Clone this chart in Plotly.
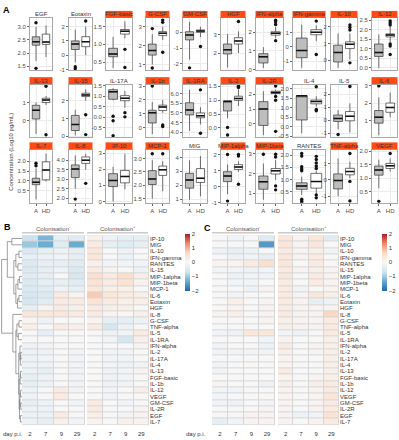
import plotly.graph_objects as go

W, H = 399, 440
FONT = "Liberation Sans, Arial, sans-serif"


def fx(p):
    return p / W


def fy(p):
    return 1 - p / H


# ---------------- Panel A data ----------------
cytokines = ["EGF", "Eotaxin", "FGF-basic", "G-CSF", "GM-CSF", "HGF", "IFN-alpha", "IFN-gamma", "IL-10", "IL-12",
             "IL-13", "IL-15", "IL-17A", "IL-1b", "IL-1RA", "IL-2", "IL-2R", "IL-4", "IL-5", "IL-6",
             "IL-7", "IL-8", "IP-10", "MCP-1", "MIG", "MIP-1alpha", "MIP-1beta", "RANTES", "TNF-alpha", "VEGF"]
significant = [0, 0, 1, 1, 1, 1, 1, 1, 1, 1,
               1, 1, 0, 1, 1, 1, 1, 0, 0, 1,
               1, 1, 1, 1, 0, 1, 1, 0, 1, 1]
groups = ["A", "HD"]

# [lower whisker, q1, median, q3, upper whisker]
stats_A = [
    [1.70, 2.30, 2.43, 2.62, 3.00], [-0.50, 0.40, 0.78, 1.00, 1.80], [0.33, 0.65, 0.73, 0.89, 1.21],
    [1.00, 1.50, 1.74, 2.08, 2.60], [-1.73, -0.48, -0.17, 0.04, 0.67], [1.20, 1.95, 2.18, 2.50, 3.05],
    [0.08, 0.35, 0.68, 0.85, 1.20], [-1.45, -0.75, -0.25, 0.62, 1.55], [-0.45, -0.10, 0.47, 0.90, 1.60],
    [0.00, 0.60, 0.80, 1.25, 1.75],
    [-0.73, 0.09, 0.58, 0.85, 1.00], [0.05, 0.33, 0.67, 1.18, 1.50], [0.80, 0.85, 1.20, 1.30, 1.37],
    [-0.45, 0.35, 1.08, 1.26, 1.85], [4.07, 4.90, 5.16, 5.53, 6.20], [0.35, 0.61, 0.96, 0.96, 0.96],
    [-0.75, -0.10, 1.00, 1.50, 2.20], [-0.35, 0.35, 1.62, 1.62, 1.62], [-0.70, -0.10, 0.14, 0.40, 0.78],
    [0.18, 0.87, 1.21, 1.59, 2.34],
    [0.05, 0.80, 0.92, 1.13, 1.63], [2.50, 3.08, 3.53, 3.75, 4.25], [0.00, 0.92, 1.30, 1.72, 2.15],
    [1.50, 2.03, 2.24, 2.55, 2.94], [0.95, 1.79, 2.38, 2.86, 3.80], [-0.47, 0.31, 0.66, 0.93, 1.38],
    [0.67, 1.20, 1.58, 1.87, 2.50], [0.36, 0.59, 0.73, 0.86, 1.11], [-1.00, -0.56, -0.05, 0.36, 1.30],
    [0.62, 1.11, 1.30, 1.45, 1.69],
]
outliers_A = [
    [3.15, 1.42], [-0.80, -0.95], [], [2.90, 0.82], [-2.25], [], [], [], [], [],
    [], [], [0.05, -0.16, -0.87], [3.00], [], [0.02, -0.25], [], [], [-1.10], [3.00],
    [1.90, 1.77], [1.95], [], [3.18], [], [2.00, -0.90], [2.97],
    [2.07, 1.96, 1.52, 1.43, 1.36, 0.18, 0.11, 0.07], [], [0.13],
]
stats_HD = [
    [1.85, 2.33, 2.42, 2.72, 3.05], [0.00, 0.60, 0.95, 1.30, 2.00], [1.17, 1.29, 1.37, 1.42, 1.65],
    [2.30, 2.53, 2.65, 2.74, 3.00], [-0.30, 0.00, 0.08, 0.15, 0.35], [2.00, 2.50, 2.67, 2.85, 3.20],
    [1.70, 1.85, 1.95, 2.03, 2.30], [0.40, 0.85, 1.02, 1.20, 1.50], [0.05, 0.70, 0.95, 1.10, 1.60],
    [1.35, 1.62, 1.72, 1.78, 2.20],
    [0.87, 1.00, 1.14, 1.24, 1.36], [2.00, 2.24, 2.33, 2.43, 2.65], [0.45, 0.78, 0.90, 1.02, 1.24],
    [1.08, 1.24, 1.50, 1.63, 2.00], [4.40, 4.75, 4.85, 5.00, 5.30], [0.79, 0.99, 1.06, 1.14, 1.38],
    [1.90, 2.05, 2.12, 2.20, 2.30], [1.05, 1.20, 1.32, 1.40, 1.60], [-0.95, -0.05, 0.30, 0.67, 1.30],
    [1.21, 1.49, 1.77, 2.02, 2.62],
    [0.97, 1.05, 1.55, 1.97, 2.39], [3.50, 3.83, 4.00, 4.17, 4.33], [0.75, 1.15, 1.55, 1.92, 2.95],
    [1.78, 2.37, 2.58, 2.72, 2.90], [1.20, 2.20, 2.50, 3.20, 4.10], [0.93, 1.07, 1.22, 1.37, 1.57],
    [1.67, 1.97, 2.13, 2.25, 2.67], [0.30, 0.64, 0.91, 1.25, 1.35], [0.10, 0.30, 0.50, 0.70, 1.10],
    [1.24, 1.36, 1.46, 1.55, 1.73],
]
outliers_HD = [
    [], [2.40], [0.86, 0.35], [3.35, 3.23, 1.65], [-0.90], [3.75], [2.65, 2.55, 2.42, 1.55], [1.80, -0.53],
    [2.10, 1.95, 1.80, -0.15], [2.45, 2.35, 2.25, 1.25, 1.15, 0.70],
    [1.90, -0.78], [1.22, 0.10], [0.22, 0.02], [0.20, 0.10], [6.20, 3.95], [1.50, 1.45],
    [2.55, 1.85, 1.60, -0.50], [2.10, 0.90, 0.83], [2.60], [],
    [], [2.78], [], [3.18], [], [2.00, 1.90, 0.15], [2.97, 2.83, 1.37, 1.17],
    [1.95, 1.82, 1.68, 1.55, 1.45, 0.36, 0.24], [1.60, -1.30, -0.10], [1.92],
]
y_ranges = [
    [1.35, 3.34], [-1.05, 2.62], [0.27, 1.75], [0.70, 3.47], [-2.40, 0.92], [1.05, 3.95], [-0.04, 2.78],
    [-1.62, 2.03], [-0.59, 2.53], [-0.12, 2.62],
    [-0.93, 1.97], [-0.06, 2.89], [-0.95, 1.52], [-0.69, 3.07], [3.73, 6.45], [-0.34, 1.54], [-0.91, 2.62],
    [-0.57, 2.19], [-1.33, 2.71], [0.05, 3.05],
    [-0.12, 2.56], [1.76, 4.52], [-0.08, 3.17], [1.35, 3.31], [0.74, 4.52], [-1.00, 2.26], [0.52, 3.17],
    [0.04, 2.20], [-1.40, 1.80], [0.08, 2.04],
]
y_ticklabels = [
    ["1.5", "2.0", "2.5", "3.0"], ["-1", "0", "1", "2"], ["0.5", "1.0", "1.5"], ["1", "2", "3"],
    ["-2", "-1", "0"], ["2", "3"], ["0", "1", "2"], ["-1", "0", "1"], ["0", "1", "2"],
    ["0.0", "0.5", "1.0", "1.5", "2.0", "2.5"],
    ["0", "1"], ["0", "1", "2"], ["-0.5", "0.0", "0.5", "1.0", "1.5"], ["0", "1", "2", "3"],
    ["4.0", "4.5", "5.0", "5.5", "6.0"], ["0.0", "0.5", "1.0", "1.5"], ["0", "1", "2"],
    ["-0.5", "0.0", "0.5", "1.0", "1.5", "2.0"], ["-1", "0", "1", "2"], ["1", "2", "3"],
    ["0.5", "1.0", "1.5", "2.0"], ["2.0", "2.5", "3.0", "3.5", "4.0"], ["0", "1", "2", "3"],
    ["1.5", "2.0", "2.5", "3.0"], ["1", "2", "3", "4"], ["-1", "0", "1", "2"], ["1", "2", "3"],
    ["0.5", "1.0", "1.5", "2.0"], ["-1", "0", "1"], ["0.5", "1.0", "1.5", "2.0"],
]

# ---------------- Panels B/C data ----------------
hm_rows = ["IP-10", "MIG", "IL-10", "IFN-gamma", "RANTES", "IL-15", "MIP-1alpha", "MIP-1beta", "MCP-1", "IL-6",
           "Eotaxin", "HGF", "IL-8", "G-CSF", "TNF-alpha", "IL-5", "IL-1RA", "IFN-alpha", "IL-2", "IL-17A",
           "IL-4", "IL-13", "FGF-basic", "IL-1b", "IL-12", "VEGF", "GM-CSF", "IL-2R", "EGF", "IL-7"]
days = ["2", "7", "9", "29"]
B_neg = [
    [-0.7, -1.2, -0.3, -0.4], [-1.0, -1.3, -0.4, -1.3], [-0.5, -0.3, -0.2, -0.3], [-0.3, -0.2, -0.1, -0.3],
    [-0.5, -0.3, -0.3, -0.4], [-0.5, -0.3, -0.2, -0.5], [-0.4, -0.3, 0.0, -0.6], [-0.5, -0.3, -0.3, -0.4],
    [-0.5, -0.4, -0.2, -0.3], [-0.6, -0.5, 0.3, 0.1], [-0.6, -0.4, 0.3, 0.3], [-0.3, 0.1, 0.3, 0.2],
    [0.4, 0.4, 0.4, 0.3], [0.1, -0.2, 0.0, 0.0], [0.2, 0.0, 0.3, 0.2], [0.0, -0.3, 0.0, 0.0],
    [0.0, 0.0, 0.0, 0.0], [-0.2, -0.1, 0.0, 0.0], [-0.2, -0.2, 0.0, -0.1], [-0.2, -0.1, 0.0, -0.1],
    [-0.2, -0.2, 0.0, -0.1], [-0.2, -0.3, 0.0, -0.1], [-0.3, -0.2, 0.0, -0.1], [-0.3, -0.2, 0.0, -0.1],
    [-0.2, 0.0, 0.3, -0.1], [-0.2, 0.0, 0.3, 0.0], [-0.3, -0.2, 0.0, -0.1], [-0.2, -0.2, 0.0, 0.0],
    [-0.2, -0.2, 0.3, 0.0], [-0.2, -0.3, 0.2, -0.1],
]
B_pos = [
    [0.2, -0.2, -0.3, -0.3], [0.3, -0.3, -0.4, -0.3], [0.4, 0.0, -0.2, 0.0], [0.4, 0.0, -0.2, 0.0],
    [0.2, -0.1, -0.1, -0.1], [0.3, 0.1, 0.0, -0.2], [0.6, 0.3, 0.6, 0.2], [0.5, 0.3, 0.5, 0.1],
    [0.4, 0.2, 0.2, 0.0], [0.8, 0.4, 0.3, 0.2], [0.5, 0.3, 0.2, 0.2], [0.3, 0.2, 0.2, 0.0],
    [0.3, 0.1, 0.0, 0.2], [0.1, -0.3, -0.3, -0.2], [0.3, -0.6, -0.2, 0.0], [0.0, -0.2, -0.1, 0.3],
    [0.0, -0.1, -0.6, 0.2], [0.0, 0.0, 0.0, 0.1], [0.0, -0.1, -0.1, 0.0], [0.0, -0.1, -0.1, 0.0],
    [0.0, -0.1, -0.2, -0.1], [0.0, -0.2, -0.1, 0.1], [0.0, -0.2, -0.1, 0.0], [0.0, -0.2, -0.1, 0.0],
    [0.0, -0.1, 0.0, 0.2], [0.0, -0.1, 0.0, 0.0], [0.3, 0.0, -0.1, 0.0], [0.3, 0.0, 0.0, 0.1],
    [0.2, 0.0, -0.1, 0.1], [0.1, 0.0, 0.2, 0.1],
]
C_neg = [
    [0.0, -0.1, 0.0, -0.4], [0.0, 0.0, 0.0, -1.5], [-0.2, -0.3, -0.2, 0.0], [0.0, -0.2, -0.1, -0.3],
    [0.1, 0.1, 0.3, 0.6], [-0.1, -0.1, -0.2, -0.1], [0.0, -0.2, -0.1, -0.1], [0.0, -0.1, -0.1, 0.0],
    [0.0, 0.0, -0.2, 0.1], [0.0, -0.1, 0.0, 0.0], [0.0, 0.2, 0.0, 0.1], [0.0, 0.1, 0.0, 0.1],
    [0.1, 0.2, 0.0, 0.1], [0.0, 0.0, 0.0, 0.1], [0.0, 0.0, 0.0, 0.0], [-0.1, -0.2, 0.4, 0.4],
    [0.0, 0.0, 0.0, -0.1], [-0.1, 0.0, 0.0, -0.2], [-0.1, -0.1, -0.1, -0.1], [0.0, 0.0, 0.0, 0.0],
    [-0.1, 0.0, 0.0, 0.0], [-0.1, 0.0, 0.0, 0.0], [0.0, 0.0, 0.0, 0.0], [0.1, 0.0, 0.0, -0.2],
    [-0.1, -0.1, 0.0, 0.0], [-0.1, 0.0, 0.0, 0.0], [-0.1, -0.2, 0.0, -0.1], [0.0, 0.0, 0.0, 0.1],
    [0.0, 0.0, 0.1, 0.1], [-0.3, -0.1, 0.1, 0.1],
]
C_pos = [
    [0.4, 0.1, 0.4, -0.4], [0.4, 0.1, 0.4, 0.0], [0.3, 0.1, 0.2, -0.1], [0.4, 0.1, 0.3, 0.0],
    [0.4, 0.0, 0.3, 0.0], [0.3, 0.1, 0.2, 0.1], [0.4, 0.0, 0.3, 0.1], [0.3, 0.0, 0.3, 0.1],
    [0.3, -0.1, 0.0, 0.1], [0.3, 0.1, 0.4, 0.2], [0.3, 0.1, -0.3, -0.2], [0.3, 0.1, 0.1, 0.1],
    [0.3, 0.1, 0.1, 0.7], [0.2, 0.1, 0.1, 0.3], [0.2, 0.1, 0.1, 0.3], [-0.1, -0.2, 0.0, 0.3],
    [0.1, 0.0, 0.0, 0.2], [0.3, 0.0, 0.1, 0.2], [0.2, 0.0, 0.1, 0.2], [0.1, 0.0, 0.0, 0.2],
    [0.1, 0.0, 0.0, 0.2], [0.3, 0.0, 0.0, 0.2], [0.1, 0.0, 0.1, 0.2], [0.2, 0.0, 0.2, 0.3],
    [0.1, 0.0, 0.1, 0.3], [0.1, 0.0, 0.1, 0.4], [0.1, 0.0, 0.1, 0.3], [0.1, 0.0, 0.1, 0.3],
    [0.1, -0.2, -0.1, 0.5], [0.1, 0.0, 0.1, 0.3],
]
# hierarchical clustering of rows: (left, right, height); new clusters numbered 30, 31, ...
dendro_merges = [
    (0, 1, 0.50), (2, 3, 0.15), (4, 5, 0.20), (31, 32, 0.30), (6, 7, 0.12), (34, 8, 0.20),
    (9, 10, 0.15), (36, 11, 0.22), (35, 37, 0.30), (33, 38, 0.40), (30, 39, 0.72),
    (13, 14, 0.15), (15, 16, 0.18), (41, 42, 0.25), (18, 19, 0.06), (44, 20, 0.08), (17, 45, 0.10),
    (21, 22, 0.07), (47, 23, 0.09), (24, 25, 0.07), (26, 27, 0.06), (49, 50, 0.10), (28, 29, 0.08),
    (51, 52, 0.12), (48, 53, 0.14), (46, 54, 0.16), (43, 55, 0.30), (12, 56, 0.45), (40, 57, 1.00),
]

# ---------------- figure ----------------
fig = go.Figure()
layout = dict(width=W, height=H, margin=dict(l=0, r=0, t=0, b=0), paper_bgcolor="white",
              plot_bgcolor="white", showlegend=False,
              font=dict(family=FONT, size=6, color="#4d4d4d"))
shapes, annotations = [], []

col_px = [(30, 52), (69, 92), (106, 132), (146, 169), (183, 207), (221, 245), (256, 283), (293, 325),
          (331, 357), (372, 397)]
row_px = [(16, 69), (84, 137), (150, 203)]
strip_px = [(9, 16), (76, 83), (142, 149)]
BORDER = "#a8a8a8"
GRID = "#ebebeb"
fills = ["#bdbdbd", "white"]

for i, name in enumerate(cytokines):
    r, c = divmod(i, 10)
    k = i + 1
    xn = "x" if k == 1 else f"x{k}"
    yn = "y" if k == 1 else f"y{k}"
    x0, x1 = col_px[c]
    y0, y1 = row_px[r]
    tv = [float(t) for t in y_ticklabels[i]]
    layout["xaxis" if k == 1 else f"xaxis{k}"] = dict(
        domain=[fx(x0), fx(x1)], range=[-0.6, 1.6], tickmode="array", tickvals=[0, 1], ticktext=groups,
        showticklabels=(r == 2), ticks="outside" if r == 2 else "", ticklen=2, tickcolor="#666",
        tickfont=dict(size=6, color="#4d4d4d"), showgrid=True, gridcolor=GRID, gridwidth=0.6,
        zeroline=False, showline=True, mirror=True, linecolor=BORDER, linewidth=0.8, anchor=yn)
    layout["yaxis" if k == 1 else f"yaxis{k}"] = dict(
        domain=[fy(y1), fy(y0)], range=y_ranges[i], tickmode="array", tickvals=tv, ticktext=y_ticklabels[i],
        ticks="outside", ticklen=2, tickcolor="#666", tickfont=dict(size=6, color="#4d4d4d"),
        showgrid=True, gridcolor=GRID, gridwidth=0.6, zeroline=False, showline=True, mirror=True,
        linecolor=BORDER, linewidth=0.8, anchor=xn)
    for g, (st, outs) in enumerate([(stats_A[i], outliers_A[i]), (stats_HD[i], outliers_HD[i])]):
        lf, q1, med, q3, uf = st
        fig.add_trace(go.Box(x=[g], q1=[q1], median=[med], q3=[q3], lowerfence=[lf], upperfence=[uf],
                             width=0.75, fillcolor=fills[g], line=dict(color="#333333", width=0.7),
                             whiskerwidth=0, boxpoints=False, xaxis=xn, yaxis=yn, hoverinfo="skip"))
        fig.add_trace(go.Scatter(x=[g - 0.375, g + 0.375], y=[med, med], mode="lines",
                                 line=dict(color="#111111", width=1.5), xaxis=xn, yaxis=yn, hoverinfo="skip"))
        if outs:
            fig.add_trace(go.Scatter(x=[g] * len(outs), y=outs, mode="markers",
                                     marker=dict(size=3.4, color="#111111"), xaxis=xn, yaxis=yn,
                                     hoverinfo="skip"))
    s0, s1 = strip_px[r]
    if significant[i]:
        shapes.append(dict(type="rect", xref="paper", yref="paper", x0=fx(x0 - 0.5), x1=fx(x1 + 0.5),
                           y0=fy(s1), y1=fy(s0), fillcolor="#FF4A14", line=dict(width=0), layer="above"))
    annotations.append(dict(text=name, x=fx((x0 + x1) / 2), y=fy((s0 + s1) / 2), xref="paper", yref="paper",
                            showarrow=False, xanchor="center", yanchor="middle",
                            font=dict(size=6, color="#333333")))

annotations.append(dict(text="Concentration (Log10 pg/mL)", x=fx(6), y=fy(110), xref="paper", yref="paper",
                        showarrow=False, textangle=-90, font=dict(size=6, color="#333333")))
for lab, px_, py_ in [("A", 1, 1), ("B", 2, 221), ("C", 202, 222)]:
    annotations.append(dict(text=f"<b>{lab}</b>", x=fx(px_), y=fy(py_), xref="paper", yref="paper",
                            showarrow=False, xanchor="left", yanchor="top",
                            font=dict(size=9, color="black")))

# ---------------- heatmaps ----------------
colorscale = [[0.0, "#2166AC"], [1 / 6, "#67A9CF"], [2 / 6, "#D1E5F0"], [0.5, "#F7F7F7"],
              [4 / 6, "#FDDBC7"], [5 / 6, "#EF8A62"], [1.0, "#B2182B"]]
hm_top, hm_bot = 236, 428
panels = [
    (31, B_neg, (22, 85), False, None), (32, B_pos, (87, 149), True, 185),
    (33, C_neg, (212, 275), False, None), (34, C_pos, (278, 339), True, 382),
]
for k, zvals, (x0, x1), labels, cbx in panels:
    xn, yn = f"x{k}", f"y{k}"
    hm = go.Heatmap(z=zvals, x=list(range(len(days))), y=list(range(len(hm_rows))), zmin=-2, zmax=2,
                    colorscale=colorscale, xgap=1, ygap=1, xaxis=xn, yaxis=yn, hoverinfo="skip",
                    showscale=labels)
    if labels:
        hm.colorbar = dict(x=fx(cbx), xanchor="left", y=fy(263), yanchor="middle", len=57, lenmode="pixels",
                           thickness=5, thicknessmode="pixels", outlinewidth=0, ticks="",
                           tickvals=[-2, -1, 0, 1, 2], tickfont=dict(size=6, color="#333333"), xpad=0, ypad=0)
    fig.add_trace(hm)
    layout[f"xaxis{k}"] = dict(domain=[fx(x0), fx(x1)], range=[-0.5, 3.5], tickmode="array",
                               tickvals=list(range(len(days))), ticktext=days, ticks="outside", ticklen=3,
                               tickcolor="rgba(0,0,0,0)", tickfont=dict(size=6, color="#333333"),
                               showgrid=False, zeroline=False, showline=False, anchor=yn)
    layout[f"yaxis{k}"] = dict(domain=[fy(hm_bot), fy(hm_top)], range=[len(hm_rows) - 0.5, -0.5],
                               tickmode="array", tickvals=list(range(len(hm_rows))), ticktext=hm_rows,
                               showticklabels=labels, side="right", ticks="", showgrid=False,
                               zeroline=False, showline=False, anchor=xn,
                               tickfont=dict(size=6, color="#333333"))
    shapes.append(dict(type="rect", xref=xn, yref=yn, x0=-0.5, x1=3.5, y0=-0.5, y1=len(hm_rows) - 0.5,
                       fillcolor="#d6d6d6", line=dict(width=0), layer="below"))
    sign = "+" if labels else "-"
    annotations.append(dict(text=f"Colonisation<sup>{sign}</sup>", x=fx((x0 + x1) / 2), y=fy(229),
                            xref="paper", yref="paper", showarrow=False, xanchor="center", yanchor="middle",
                            font=dict(size=6, color="#555555")))
    shapes.append(dict(type="line", xref="paper", yref="paper", x0=fx(x0), x1=fx(x1 - 1), y0=fy(233.5),
                       y1=fy(233.5), line=dict(color="#999999", width=0.8)))

for xa, anchor in ((0.5, "left"), (208, "right")):
    annotations.append(dict(text="day p.i.", x=fx(xa), y=fy(437), xref="paper", yref="paper",
                            showarrow=False, xanchor=anchor, yanchor="middle",
                            font=dict(size=6, color="#333333")))

# ---------------- dendrogram ----------------
n = len(hm_rows)
pos = {i: (float(i), 0.0) for i in range(n)}
dx, dy = [], []
for j, (a, b, h) in enumerate(dendro_merges):
    ya, ha = pos[a]
    yb, hb = pos[b]
    dx += [ha, h, h, hb, None]
    dy += [ya, ya, yb, yb, None]
    pos[n + j] = ((ya + yb) / 2, h)
fig.add_trace(go.Scatter(x=dx, y=dy, mode="lines", line=dict(color="#777777", width=0.7),
                         xaxis="x35", yaxis="y35", hoverinfo="skip"))
layout["xaxis35"] = dict(domain=[fx(1), fx(22)], range=[1.03, 0], visible=False, anchor="y35")
layout["yaxis35"] = dict(domain=[fy(hm_bot), fy(hm_top)], range=[n - 0.5, -0.5], visible=False,
                         anchor="x35")

layout["shapes"] = shapes
layout["annotations"] = annotations
fig.update_layout(**layout)
fig.write_html("out.html", config={"displayModeBar": False},
               post_script="document.body.style.margin='0';document.body.style.overflow='hidden';")
